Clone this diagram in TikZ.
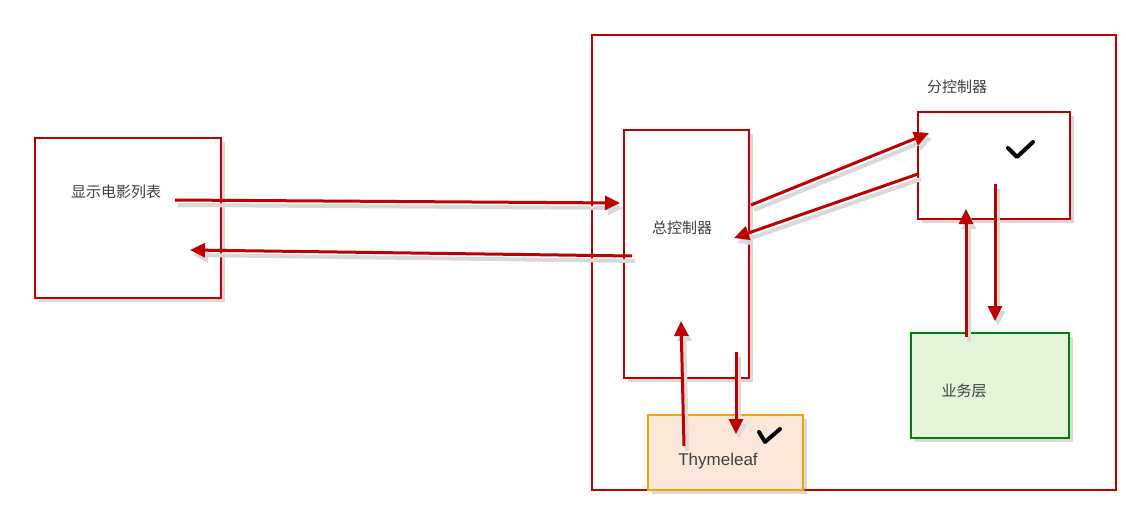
\documentclass[tikz,border=0pt]{standalone}
\usepackage{fontspec}
\setmainfont{Liberation Sans}
\newfontfamily\cjk{Noto Sans CJK SC}
\usetikzlibrary{arrows.meta,shadows}
\definecolor{darkred}{HTML}{C00000}
\definecolor{txt}{HTML}{404040}
\definecolor{okgreen}{HTML}{00800A}
\definecolor{okfill}{HTML}{E2F4D9}
\definecolor{tyline}{HTML}{F5A300}
\definecolor{tyfill}{HTML}{FCE8DA}
\tikzset{
  frame/.style={draw=darkred,line width=2pt,minimum width=#1,inner sep=0pt},
  box/.style={frame=#1,fill=white,
    drop shadow={opacity=0.3,shadow xshift=4pt,shadow yshift=-4pt}},
  lbl/.style={text=txt,font=\cjk\fontsize{15}{17}\selectfont},
  flow/.style={draw=darkred,line width=3pt,-{Triangle[length=15pt,width=14pt]},
    preaction={draw=black!15,line width=4pt,transform canvas={shift={(3pt,-5pt)}}}},
  tick/.style={draw=black,line width=4pt,line cap=round,line join=round}
}
\begin{document}
\begin{tikzpicture}[x=1pt,y=-1pt]
    \useasboundingbox (0,0) rectangle (1126,513);
    % frame round the server side
    \node [frame=524pt,minimum height=455pt] (B0_0) at (854,262.5) {};
    \node [box=186pt,minimum height=160pt] (A0_0) at (128,218) {};
    \node [box=125pt,minimum height=248pt] (A0_1) at (686.5,254) {};
    \node [box=152pt,minimum height=107pt] (A0_2) at (994,165.5) {};
    \node [box=158pt,minimum height=105pt,draw=okgreen,fill=okfill] (A1_2) at (990,385.5) {};
    \node [box=155pt,minimum height=75pt,draw=tyline,fill=tyfill] (A1_1) at (725.5,452.5) {};
    % texts
    \node [lbl] (L0_0) at (116,192) {显示电影列表};
    \node [lbl] (L0_1) at (682,228) {总控制器};
    \node [lbl] (L0_2) at (957,87) {分控制器};
    \node [lbl] (L1_2) at (964,391) {业务层};
    \node [text=txt,font=\fontsize{17}{20}\selectfont] (L1_1) at (718,461) {Thymeleaf};
    % free ends of the arrows
    \coordinate (p1) at (175,200);  \coordinate (q1) at (620,203);
    \coordinate (p2) at (632,256);  \coordinate (q2) at (190,250);
    \coordinate (p3) at (751,205);  \coordinate (q3) at (929,133);
    \coordinate (p4) at (918,174);  \coordinate (q4) at (734,238);
    \coordinate (p5) at (966,337);  \coordinate (q5) at (966,209);
    \coordinate (p6) at (995,184);  \coordinate (q6) at (995,321);
    \coordinate (p7) at (684,446);  \coordinate (q7) at (681,321);
    \coordinate (p8) at (736,352);  \coordinate (q8) at (736,434);
    \foreach \i in {1,...,8}
      \path [flow] (p\i) -- (q\i);
    % ticks
    \draw [tick] (1008,148) -- (1017,157) -- (1033,142);
    \draw [tick] (759,432) -- (765,442) -- (780,429);
  \end{tikzpicture}
\end{document}
